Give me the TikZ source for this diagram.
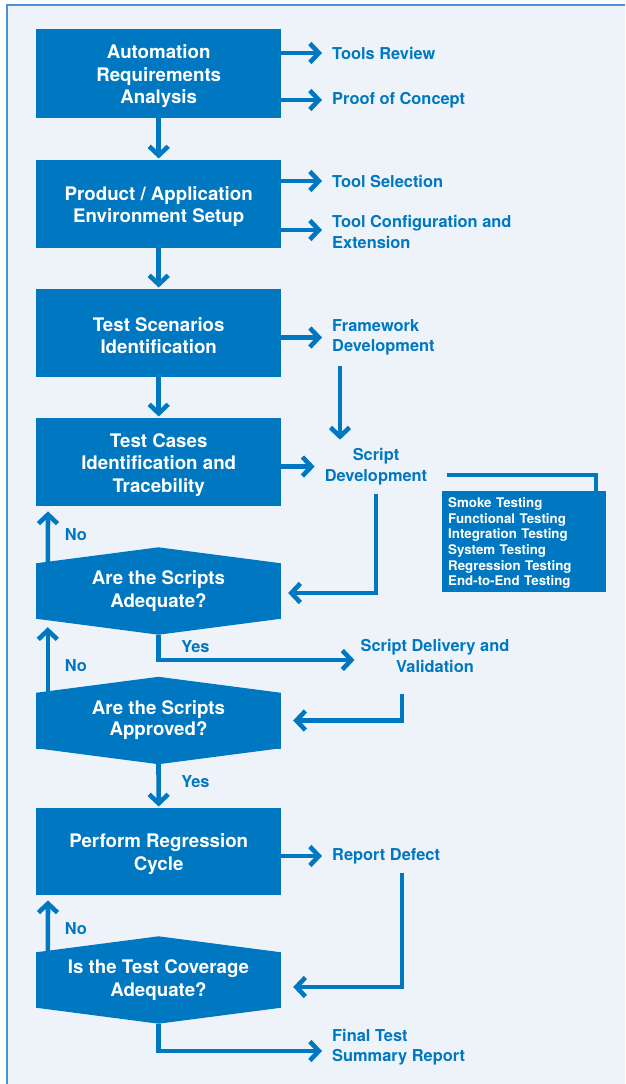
\documentclass[tikz,border=0pt]{standalone}
\usepackage{fontspec}
\setmainfont{TeX Gyre Heros}
\usetikzlibrary{arrows.meta,calc}
\definecolor{mblue}{HTML}{0077C1}
\definecolor{bgc}{HTML}{EEF3FA}
\definecolor{fblue}{HTML}{4A93D3}
\newcommand\mystrut{\rule{0pt}{19pt}}
\begin{document}
\begin{tikzpicture}[x=1pt,y=-1pt,
 box/.style={fill=mblue,text=white,font=\bfseries\fontsize{18.7}{22.6}\selectfont,align=center,minimum width=245pt,inner sep=0pt,anchor=north west},
 dia/.style={fill=mblue,text=white,font=\bfseries\fontsize{18.7}{22.4}\selectfont,align=center,minimum width=245pt,minimum height=56pt,inner sep=0pt},
 lbl/.style={text=mblue,font=\bfseries\fontsize{16.4}{20.5}\selectfont,align=left,inner sep=0pt},
 arr/.style={draw=mblue,line width=4.6pt,-{Straight Barb[length=9pt,width=19pt,line cap=butt,line join=miter]}},
 conn/.style={draw=mblue,line width=4pt},
]
\useasboundingbox (0,0) rectangle (625,1084);
\fill[white] (0,0) rectangle (625,1084);
\fill[bgc] (7,5) rectangle (625,1084);
\draw[fblue,line width=1.3pt] (625,5) -- (7,5) -- (7,1084);

% main column
\node[box,minimum height=89pt] (b1) at (36,29) {\mystrut Automation\\Requirements\\Analysis};
\node[box,minimum height=88pt] (b2) at (36,160) {\mystrut Product / Application\\Environment Setup};
\node[box,minimum height=88pt] (b3) at (36,289) {\mystrut Test Scenarios\\Identification};
\node[box,minimum height=88pt] (b4) at (36,418) {\mystrut Test Cases\\Identification and\\Tracebility};
\node[dia] (d1) at (158.5,591) {Are the Scripts\\Adequate?};
\node[dia] (d2) at (158.5,720.5) {Are the Scripts\\[-1.5pt]Approved?};
\node[box,minimum height=87pt] (b5) at (36,808) {\mystrut Perform Regression\\Cycle};
\node[dia] (d3) at (158.5,980) {Is the Test Coverage\\Adequate?};

\foreach \d in {d1,d2,d3} {
  \fill[mblue] ($(\d.north west)+(0,0.5)$) -- ($(\d.north)+(0,-15.5)$) -- ($(\d.north east)+(0,0.5)$) -- cycle;
  \fill[mblue] ($(\d.south west)+(0,-0.5)$) -- ($(\d.south)+(0,15.5)$) -- ($(\d.south east)+(0,-0.5)$) -- cycle;
}
\coordinate (d1b) at ($(d1.south)+(0,15.5)$);
\coordinate (d2b) at ($(d2.south)+(0,15.5)$);
\coordinate (d3b) at ($(d3.south)+(0,15.5)$);

% side labels
\node[lbl,anchor=west] (tr) at (332,53) {Tools Review};
\node[lbl,anchor=west] (pc) at (332,100) {Proof of Concept};
\node[lbl,anchor=west] (ts) at (332,181) {Tool Selection};
\node[lbl,anchor=west] (tc) at (332,232) {Tool Configuration and\\Extension};
\node[lbl,anchor=west] (fw) at (332,337.5) {Framework\\Development};
\node[lbl,align=center] (sd) at (376,466.5) {Script\\Development};
\node[lbl,align=center] (sdv) at (435,656) {Script Delivery and\\Validation};
\node[lbl,anchor=west] (rd) at (332,856) {Report Defect};
\node[lbl,anchor=west] (ft) at (332,1047) {Final Test\\Summary Report};
\node[lbl] (y1) at (195.5,647) {Yes};
\node[lbl] (y2) at (195.5,782) {Yes};
\node[lbl] (n1) at (76,535) {No};
\node[lbl] (n2) at (76,666) {No};
\node[lbl] (n3) at (76,929) {No};

\node[fill=mblue,text=white,font=\bfseries\fontsize{13.3}{15.6}\selectfont,align=left,anchor=north west,
      text width=152pt,inner xsep=6pt,inner ysep=0pt,minimum height=101pt] (sm) at (442,491)
  {\rule{0pt}{13pt}Smoke Testing\\Functional Testing\\Integration Testing\\System Testing\\Regression Testing\\End-to-End Testing};

% vertical flow
\draw[arr,shorten >=1.5pt] (b1.south) -- (b2.north);
\draw[arr,shorten >=1.5pt] (b2.south) -- (b3.north);
\draw[arr,shorten >=1.5pt] (b3.south) -- (b4.north);
\draw[arr,shorten >=1.5pt] (d2b) -- (b5.north);

% No arrows
\draw[arr] ($(d1.north west)+(12,0)$) -- ($(b4.south west)+(12,5)$);
\draw[arr] ($(d2.north west)+(12,0)$) -- ($(d1.south west)+(12,8)$);
\draw[arr] ($(d3.north west)+(12,0)$) -- ($(b5.south west)+(12,5)$);

% side arrows
\draw[arr] (b1.east |- tr.west) -- ($(tr.west)+(-10,0)$);
\draw[arr] (b1.east |- pc.west) -- ($(pc.west)+(-10,0)$);
\draw[arr] (b2.east |- ts.west) -- ($(ts.west)+(-10,0)$);
\draw[arr] ($(b2.east |- tc.west)+(0,-2)$) -- ($(tc.west)+(-10,-2)$);
\draw[arr] (b3.east |- fw.west) -- ($(fw.west)+(-10,0)$);
\draw[arr] (b4.east |- sd.west) -- ($(sd.west)+(-10,0)$);
\draw[arr] (b5.east |- rd.west) -- ($(rd.west)+(-10,0)$);

\coordinate (fwd) at ($(fw.south west)+(8,10)$);
\draw[arr,shorten >=8.5pt] (fwd) -- (fwd |- sd.north);
\draw[arr,shorten <=9pt,shorten >=7pt] (sd.south) |- ($(d1.east)+(0,2)$);
\draw[conn] ($(sd.east)+(20,8.5)$) -| ($(sm.north east)+(-10,0)$);

\draw[arr] (d1b) |- ($(sdv.west)+(-6,4)$);
\draw[arr,shorten >=12pt] ($(sdv.south)+(-33,21)$) |- (d2.east);
\draw[arr,shorten >=12pt] ($(rd.south west)+(70,9.5)$) |- ($(d3.east)+(0,7)$);
\draw[arr] (d3b) |- ($(ft.west)+(-10,4)$);
\end{tikzpicture}
\end{document}
